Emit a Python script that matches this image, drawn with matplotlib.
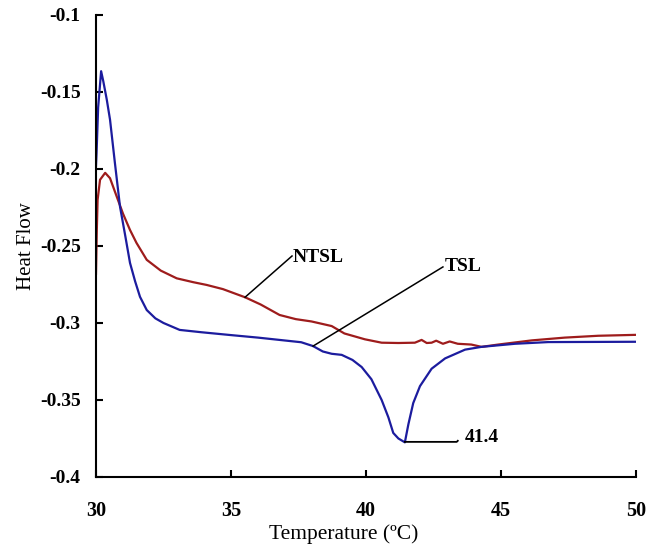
import matplotlib
matplotlib.use("Agg")
import matplotlib.pyplot as plt

# TSL (blue) curve
tsl_x = [30.0, 30.02, 30.08, 30.19, 30.27, 30.40, 30.52, 30.70, 30.89, 31.08, 31.26, 31.45, 31.63,
         31.88, 32.20, 32.50, 33.10, 33.90, 34.96, 36.00, 36.80, 37.60, 38.04, 38.40, 38.73, 39.10,
         39.50, 39.84, 40.20, 40.58, 40.83, 41.01, 41.20, 41.44, 41.57, 41.75, 42.00, 42.43, 42.93,
         43.67, 44.28, 45.52, 46.75, 50.0]
tsl_y = [-0.198, -0.190, -0.160, -0.1365, -0.143, -0.155, -0.168, -0.196, -0.2245, -0.243, -0.261,
         -0.273, -0.283, -0.2916, -0.297, -0.300, -0.3045, -0.306, -0.3078, -0.3095, -0.3110,
         -0.3125, -0.3150, -0.3185, -0.3200, -0.3207, -0.3240, -0.3286, -0.3365, -0.3500, -0.3613,
         -0.3714, -0.3750, -0.3775, -0.3658, -0.3520, -0.3410, -0.3297, -0.3230, -0.3173, -0.3155,
         -0.3135, -0.3124, -0.3122]

# NTSL (red) curve
ntsl_x = [30.0, 30.03, 30.06, 30.15, 30.34, 30.52, 30.77, 31.00, 31.26, 31.50, 31.88, 32.40, 32.99,
          33.60, 34.10, 34.70, 35.52, 36.10, 36.80, 37.40, 37.98, 38.73, 39.20, 39.96, 40.58, 41.20,
          41.81, 42.06, 42.25, 42.43, 42.60, 42.85, 43.10, 43.40, 43.90, 44.28, 44.90, 46.14, 47.36,
          48.60, 50.0]
ntsl_y = [-0.268, -0.240, -0.220, -0.207, -0.2025, -0.206, -0.218, -0.2290, -0.2396, -0.248,
          -0.2590, -0.2660, -0.2710, -0.2735, -0.2753, -0.2780, -0.2833, -0.2880, -0.2948, -0.2975,
          -0.2990, -0.3020, -0.3068, -0.3106, -0.3128, -0.3130, -0.3128, -0.3110, -0.3130, -0.3128,
          -0.3115, -0.3135, -0.3120, -0.3135, -0.3140, -0.3155, -0.3140, -0.3113, -0.3095, -0.3083,
          -0.3077]

x_ticks = [30, 35, 40, 45, 50]
y_ticks = [-0.4, -0.35, -0.3, -0.25, -0.2, -0.15, -0.1]
y_ticklabels = ["-0.4", "-0.35", "-0.3", "-0.25", "-0.2", "-0.15", "-0.1"]

# annotation leaders (data coordinates)
ntsl_leader_x = [35.52, 37.26]
ntsl_leader_y = [-0.2833, -0.2565]
tsl_leader_x = [38.04, 42.85]
tsl_leader_y = [-0.315, -0.2636]
peak_leader_x = [41.44, 43.36, 43.40]
peak_leader_y = [-0.3772, -0.3772, -0.3765]
peak_label = "41.4"

plt.rcParams['font.family'] = ['Liberation Serif', 'DejaVu Serif']

fig = plt.figure(figsize=(6.62, 5.45), dpi=100)
ax = fig.add_axes([0.145, 0.1248, 0.8157, 0.8477])

ax.plot(ntsl_x, ntsl_y, color='#9e1c1c', lw=1.6)
ax.plot(tsl_x, tsl_y, color='#1c1c9e', lw=1.6)

ax.plot(ntsl_leader_x, ntsl_leader_y, color='black', lw=1.1)
ax.plot(tsl_leader_x, tsl_leader_y, color='black', lw=1.1)
ax.plot(peak_leader_x, peak_leader_y, color='black', lw=1.3)

ax.text(37.3, -0.2575, "NTSL", fontsize=14, fontweight='bold', va='center', ha='left')
ax.text(42.9, -0.2630, "TSL", fontsize=14, fontweight='bold', va='center', ha='left')
ax.text(43.67, -0.3745, peak_label, fontsize=14, fontweight='bold', va='center', ha='left')

ax.set_xlim(30, 50)
ax.set_ylim(-0.4, -0.1)
ax.set_xticks(x_ticks)
ax.set_yticks(y_ticks)
ax.set_yticklabels(y_ticklabels)
for lab in ax.get_yticklabels():
    lab.set_fontweight('bold')
    lab.set_fontsize(14)
for lab in ax.get_xticklabels():
    lab.set_fontweight('bold')
    lab.set_fontsize(14.5)

ax.spines['top'].set_visible(False)
ax.spines['right'].set_visible(False)
for s in ['left', 'bottom']:
    ax.spines[s].set_linewidth(1.5)
ax.tick_params(axis='y', direction='in', length=5, width=1.5, pad=11)
ax.tick_params(axis='x', direction='in', length=5, width=1.5, pad=17)

ax.set_xlabel("Temperature (ºC)", fontsize=15.5)
ax.xaxis.set_label_coords(0.458, -0.102)
ax.set_ylabel("Heat Flow", fontsize=15, labelpad=3)

fig.savefig("out.png", dpi=100)
